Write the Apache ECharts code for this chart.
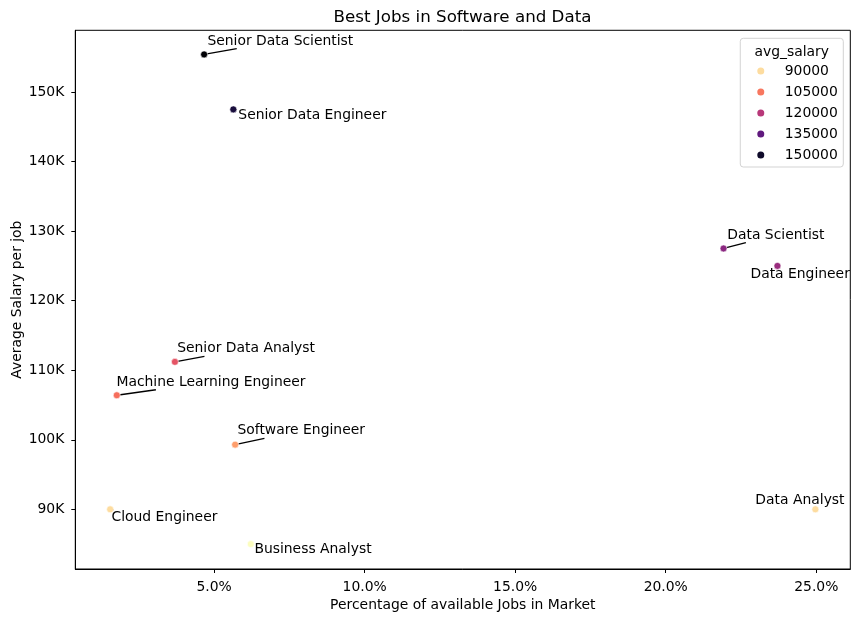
<!DOCTYPE html>
<html><head><meta charset="utf-8">
<script src="https://cdn.jsdelivr.net/npm/echarts@6/dist/echarts.min.js"></script>
<style>html,body{margin:0;padding:0;background:#fff}#c{width:860px;height:622px}</style>
</head><body><div id="c"></div>
<script>
// ---- data ----
const jobTitles = ['Senior Data Scientist','Senior Data Engineer','Data Scientist','Data Engineer','Senior Data Analyst','Machine Learning Engineer','Software Engineer','Cloud Engineer','Business Analyst','Data Analyst'];
const jobPercent = [4.67, 5.64, 21.92, 23.71, 3.70, 1.77, 5.70, 1.55, 6.22, 24.97];
const avgSalary = [155400, 147500, 127500, 125000, 111200, 106400, 99300, 90000, 85000, 90000];
const xTickValues = [5, 10, 15, 20, 25];
const yTickValues = [90000, 100000, 110000, 120000, 130000, 140000, 150000];
const legendSalaries = [90000, 105000, 120000, 135000, 150000];

// ---- styling ----
const FONT = '"DejaVu Sans", sans-serif';
const FS = 13.9;
const magma = ['#000004','#140e36','#3b0f70','#641a80','#8c2981','#b73779','#de4968','#f7705c','#fe9f6d','#fecf92','#fcfdbf'];
const palette = magma.slice().reverse(); // low salary = light
const labelShift = {
  'Senior Data Scientist': [-5.5, -13.5],
  'Senior Data Engineer': [-3.8, 6.5],
  'Data Scientist': [-5.1, -13.5],
  'Data Engineer': [-35.8, 8.1],
  'Senior Data Analyst': [-6.5, -13.2],
  'Machine Learning Engineer': [-9.2, -13.2],
  'Software Engineer': [-6.5, -13.9],
  'Cloud Engineer': [-7.5, 8.2],
  'Business Analyst': [-5.2, 4.8],
  'Data Analyst': [-68.8, -8.5]
};
const SYM = 7, LABEL_DIST = 5;

const sMin = Math.min(...avgSalary), sMax = Math.max(...avgSalary);
function hex2rgb(h){return [parseInt(h.slice(1,3),16),parseInt(h.slice(3,5),16),parseInt(h.slice(5,7),16)];}
function colorFor(v){
  let t = (v - sMin) / (sMax - sMin); t = Math.max(0, Math.min(1, t));
  const p = t * (palette.length - 1), i = Math.min(Math.floor(p), palette.length - 2), f = p - i;
  const a = hex2rgb(palette[i]), b = hex2rgb(palette[i+1]);
  return 'rgb(' + a.map((x,k)=>Math.round(x + (b[k]-x)*f)).join(',') + ')';
}

const chart = echarts.init(document.getElementById('c'), null, {renderer:'canvas'});
const legendNames = legendSalaries.map(String);

const option = {
  animation: false,
  backgroundColor: '#fff',
  textStyle: {fontFamily: FONT},
  grid: {left: 75.3, right: 9.7, top: 30.3, bottom: 53, containLabel: false, outerBoundsMode: 'none',
         show: true, borderColor: '#000', borderWidth: 1, backgroundColor: 'transparent'},
  xAxis: {
    type: 'value', min: 0.392, max: 26.13,
    axisLine: {show: true, onZero: false, lineStyle: {color: '#000', width: 1}},
    axisTick: {show: true, length: 4, customValues: xTickValues, lineStyle: {color: '#000'}},
    axisLabel: {customValues: xTickValues, formatter: v => Number(v).toFixed(1) + '%', color: '#000', fontSize: FS, fontFamily: FONT, margin: 11},
    splitLine: {show: false},
    name: 'Percentage of available Jobs in Market', nameLocation: 'middle', nameGap: 29, nameMoveOverlap: false,
    nameTextStyle: {color: '#000', fontSize: FS, fontFamily: FONT}
  },
  yAxis: {
    type: 'value', min: 81420, max: 158870,
    axisLine: {show: true, onZero: false, lineStyle: {color: '#000', width: 1}},
    axisTick: {show: true, length: 4, customValues: yTickValues, lineStyle: {color: '#000'}},
    axisLabel: {customValues: yTickValues, formatter: v => Math.round(v/1000) + 'K', color: '#000', fontSize: FS, fontFamily: FONT, margin: 11},
    splitLine: {show: false},
    name: 'Average Salary per job', nameLocation: 'middle', nameGap: 51, nameRotate: 90, nameMoveOverlap: false,
    nameTextStyle: {color: '#000', fontSize: FS, fontFamily: FONT}
  },
  visualMap: {
    show: false, type: 'continuous', seriesIndex: 0, dimension: 1,
    min: sMin, max: sMax, inRange: {color: palette}
  },
  legend: {
    data: legendNames, orient: 'vertical', right: 16.7, top: 38.3,
    padding: [24.7, 5.5, 4, 17], itemWidth: 7, itemHeight: 7, itemGap: 5, icon: 'circle',
    itemStyle: {borderWidth: 0, opacity: 1},
    borderColor: '#d3d3d3', borderWidth: 1, borderRadius: 3, backgroundColor: 'rgba(255,255,255,0.8)',
    textStyle: {fontSize: FS, color: '#000', fontFamily: FONT, lineHeight: 16, padding: [0, 0, 0, 15.5]}
  },
  series: [
    {
      type: 'scatter', symbolSize: SYM, z: 3,
      itemStyle: {borderColor: '#fff', borderWidth: 0.6, opacity: 1},
      data: jobTitles.map((n, i) => ({name: n, value: [jobPercent[i], avgSalary[i]]})),
      label: {show: true, position: 'right', distance: LABEL_DIST, formatter: '{b}', color: '#000', fontSize: FS, fontFamily: FONT},
      labelLayout: function (params) {
        const s = labelShift[jobTitles[params.dataIndex]];
        return {dx: s[0], dy: s[1]};
      }
    }
  ].concat(legendSalaries.map(v => ({
    type: 'scatter', name: String(v), data: [], symbolSize: SYM,
    itemStyle: {color: colorFor(v), opacity: 1}
  })))
};
chart.setOption(option);

// connector lines from each point toward its label (clipped at the label box)
const ctx = document.createElement('canvas').getContext('2d');
ctx.font = FS + 'px ' + FONT;
const graphics = [
  {type: 'text', x: 462.5, y: 17.3, z: 10, style: {text: 'Best Jobs in Software and Data', font: '16.7px ' + FONT, fill: '#000', align: 'center', verticalAlign: 'middle'}},
  {type: 'text', x: 791.7, y: 52, z: 10, style: {text: 'avg_salary', font: FS + 'px ' + FONT, fill: '#000', align: 'center', verticalAlign: 'middle'}}
];
jobTitles.forEach((n, i) => {
  const p = chart.convertToPixel({seriesIndex: 0}, [jobPercent[i], avgSalary[i]]);
  const s = labelShift[n];
  const w = ctx.measureText(n).width;
  const left = p[0] + SYM/2 + LABEL_DIST + s[0], cy = p[1] + s[1];
  const r = {x0: left - 1, x1: left + w + 1, y0: cy - 7.7, y1: cy + 7.7};
  const c = [left + w/2, cy];
  if (p[0] >= r.x0 && p[0] <= r.x1 && p[1] >= r.y0 && p[1] <= r.y1) return;
  const dx = c[0] - p[0], dy = c[1] - p[1];
  let tEnter = 0;
  [[-dx, p[0] - r.x0], [dx, r.x1 - p[0]], [-dy, p[1] - r.y0], [dy, r.y1 - p[1]]].forEach(([pp, q]) => {
    if (pp < 0) tEnter = Math.max(tEnter, q / pp);
  });
  const e = [p[0] + dx * tEnter, p[1] + dy * tEnter];
  if (Math.hypot(e[0]-p[0], e[1]-p[1]) < 1) return;
  graphics.push({type: 'line', z: 1, silent: true, shape: {x1: p[0], y1: p[1], x2: e[0], y2: e[1]}, style: {stroke: '#000', lineWidth: 1.3}});
});
chart.setOption({graphic: graphics});
</script>
</body></html>
